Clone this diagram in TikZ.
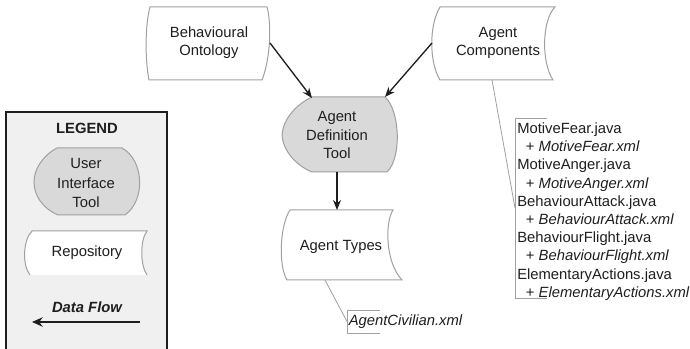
\documentclass[tikz,border=0pt]{standalone}
\usepackage{fontspec}
\setmainfont{Liberation Sans}
\usetikzlibrary{arrows.meta}
\definecolor{ink}{HTML}{1E1E1E}
\definecolor{edge}{HTML}{A0A0A0}
\definecolor{toolfill}{HTML}{D9D9D9}
\definecolor{legendfill}{HTML}{F0F0F0}

\begin{document}
\begin{tikzpicture}[x=0.75pt,y=-0.75pt,
  lbl/.style={text=ink,font=\fontsize{11.1}{13.9}\selectfont,align=center,inner sep=0pt},
  listtext/.style={text=ink,font=\fontsize{11.1}{13.65}\selectfont,align=left,inner sep=0pt},
  outline/.style={draw=edge,line width=0.75pt},
  flow/.style={draw=ink,line width=1pt,-{Stealth[length=7.5pt,width=6pt]}},
  legendflow/.style={draw=ink,line width=1.6pt,-{Stealth[length=8pt,width=7pt]}},
  callout/.style={draw=edge,line width=0.6pt},
]
\useasboundingbox (0,0) rectangle (690,349);

% ---------- legend panel (runs off the bottom edge) ----------
\fill[legendfill] (6,112) rectangle (167,349);
\draw[ink,line width=1.5pt] (6,353) -- (6,112) -- (167,112) -- (167,353);
\node[lbl,font=\fontsize{11.1}{13.9}\selectfont\bfseries] (legend) at (87,128) {LEGEND};

% user interface tool symbol
\filldraw[outline,fill=toolfill] (57,148) -- (122,148)
  .. controls (144,160) and (146,200) .. (125,215) -- (58,215)
  .. controls (42,208) and (34,195) .. (34,182)
  .. controls (34,170) and (42,156) .. (57,148) -- cycle;
\node[lbl,font=\fontsize{11.1}{14.6}\selectfont] (uit) at (86,183) {User\\Interface\\Tool};

% repository symbol (open at the bottom)
\fill[white] (32,231) -- (147,231)
  .. controls (140,240) and (140,265) .. (147,275) -- (30,275)
  .. controls (22,265) and (23,240) .. (32,231) -- cycle;
\draw[outline] (30,275) .. controls (22,265) and (23,240) .. (32,231) -- (147,231)
  .. controls (140,240) and (140,265) .. (147,275);
\node[lbl] (repo) at (87,253) {Repository};

% data flow sample
\node[lbl,font=\fontsize{11.1}{13.9}\selectfont\bfseries\itshape] (dflow) at (87,307) {Data Flow};
\coordinate (df-r) at (140,322);
\coordinate (df-l) at (32,322);
\draw[legendflow] (df-r) -- (df-l);

% ---------- repositories ----------
% Behavioural Ontology
\filldraw[outline,fill=white] (150,7) -- (267,7)
  .. controls (272,25) and (270,60) .. (262,80) -- (149,80)
  .. controls (145,60) and (145,25) .. (150,7) -- cycle;
\node[lbl] (bo) at (209,42.5) {Behavioural\\Ontology};
\coordinate (bo-e) at (270,43);

% Agent Components
\filldraw[outline,fill=white] (440,7) -- (555,7)
  .. controls (542,20) and (541,62) .. (553,80) -- (440,80)
  .. controls (429,62) and (429,25) .. (440,7) -- cycle;
\node[lbl] (ac) at (498,43) {Agent\\Components};
\coordinate (ac-w) at (432,43);
\coordinate (ac-s) at (492,80);

% Agent Types
\filldraw[outline,fill=white] (290,210) -- (393,210)
  .. controls (385,222) and (385,262) .. (402,280) -- (287,280)
  .. controls (278,265) and (280,225) .. (290,210) -- cycle;
\node[lbl] (at) at (341,247) {Agent Types};
\coordinate (at-n) at (337,210);
\coordinate (at-s) at (325,280);

% ---------- tool ----------
\filldraw[outline,fill=toolfill] (312,97) -- (385,97)
  .. controls (400,110) and (402,158) .. (387,172) -- (312,172)
  .. controls (295,165) and (283,150) .. (282,135)
  .. controls (283,120) and (295,105) .. (312,97) -- cycle;
\node[lbl] (adt) at (337,135) {Agent\\Definition\\Tool};
\coordinate (adt-nw) at (312,98);
\coordinate (adt-ne) at (385,97);
\coordinate (adt-s) at (337,172);

% ---------- data flows ----------
\draw[flow] (bo-e) -- (adt-nw);
\draw[flow] (ac-w) -- (adt-ne);
\draw[flow] (adt-s) -- (at-n);

% ---------- annotations ----------
\node[listtext,anchor=north west] (files) at (517,122.5) {MotiveFear.java\\
\hspace*{6.5pt}+ \textit{MotiveFear.xml}\\
MotiveAnger.java\\
\hspace*{6.5pt}+ \textit{MotiveAnger.xml}\\
BehaviourAttack.java\\
\hspace*{6.5pt}+ \textit{BehaviourAttack.xml}\\
BehaviourFlight.java\\
\hspace*{6.5pt}+ \textit{BehaviourFlight.xml}\\
ElementaryActions.java\\
\hspace*{6.5pt}+ \textit{ElementaryActions.xml}};
\draw[callout] (547,118) -- (515,118) -- (515,298) -- (547,298);
\coordinate (files-w) at (515,208);
\draw[callout] (ac-s) -- (files-w);

\node[lbl,anchor=west,font=\fontsize{11.1}{13.9}\selectfont\itshape] (civ) at (348.5,322) {AgentCivilian.xml};
\draw[callout] (380,310) -- (347,310) -- (347,333) -- (380,333);
\coordinate (civ-w) at (347,321.5);
\draw[callout] (at-s) -- (civ-w);
\end{tikzpicture}
\end{document}
